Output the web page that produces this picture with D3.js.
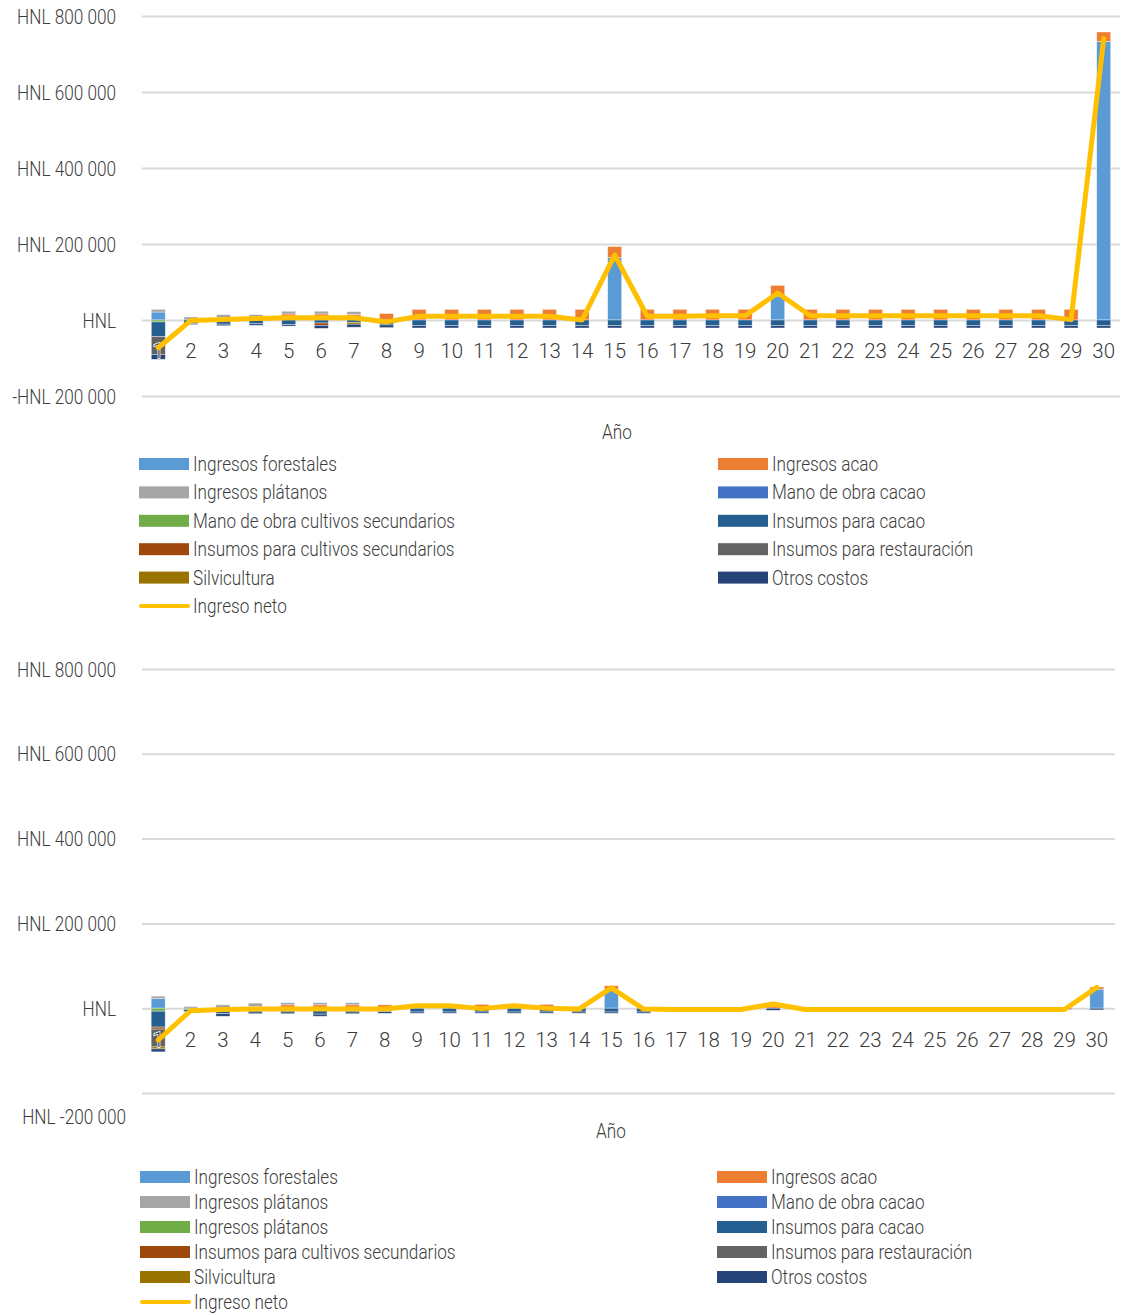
<!DOCTYPE html>
<html lang="es">
<head>
<meta charset="utf-8">
<title>Flujo de caja por año</title>
<script src="https://cdn.jsdelivr.net/npm/d3@7/dist/d3.min.js"></script>
<style>
  html, body { margin: 0; padding: 0; background: #fff; }
  svg { display: block; }
  text { font-family: Roboto, "Liberation Sans", sans-serif; font-weight: 300; fill: #3c3c3c; }
</style>
</head>
<body>
<svg id="chart" width="1121" height="1315"></svg>
<script>
// ---- Categories (years) ----
const years = ["1","2","3","4","5","6","7","8","9","10","11","12","13","14","15",
               "16","17","18","19","20","21","22","23","24","25","26","27","28","29","30"];

// ---- Series, first scenario (HNL; costs negative) ----
const forestalesA = [21000,0,0,0,0,0,0,0,0,0,0,0,0,0,165000,0,0,0,0,63000,0,0,0,0,0,0,0,0,0,733000];
const acaoA = [0,0,6000,5000,16000,16000,15000,17000,28000,28000,28000,28000,28000,28000,28000,
               28000,28000,28000,28000,28000,28000,28000,28000,28000,28000,28000,28000,28000,28000,25000];
const platanosA = [7000,8000,8000,9000,7000,7000,7000,0,0,0,0,0,0,0,0,0,0,0,0,0,0,0,0,0,0,0,0,0,0,0];
const manoCacaoA = [0,0,0,0,0,0,0,0,0,0,0,0,0,0,0,0,0,0,0,0,0,0,0,0,0,0,0,0,0,0];
const manoCultivosA = [-5000,0,0,0,0,0,0,0,0,0,0,0,0,0,0,0,0,0,0,0,0,0,0,0,0,0,0,0,0,0];
const insumosCacaoA = [-39000,-9000,-11000,-10000,-12000,-8000,-6000,-13000,-15000,-15000,-15000,-15000,-15000,-15000,-15000,
                       -15000,-15000,-15000,-15000,-15000,-15000,-15000,-15000,-15000,-15000,-15000,-15000,-15000,-15000,-15000];
const insumosCultivosA = [0,0,0,0,0,-6000,0,0,0,0,0,0,0,0,0,0,0,0,0,0,0,0,0,0,0,0,0,0,0,0];
const insumosRestauracionA = [-46500,0,0,0,0,0,0,0,0,0,0,0,0,0,0,0,0,0,0,0,0,0,0,0,0,0,0,0,0,0];
const silviculturaA = [0,0,0,0,0,0,-5000,0,0,0,0,0,0,0,0,0,0,0,0,0,0,0,0,0,0,0,0,0,0,0];
const otrosCostosA = [-13000,-3000,-4000,-4000,-4000,-8000,-8000,-7000,-6000,-6000,-6000,-6000,-6000,-6000,-6000,
                      -6000,-6000,-6000,-6000,-6000,-6000,-6000,-6000,-6000,-6000,-6000,-6000,-6000,-6000,-6000];
const netoA = [-73000,-1000,1000,4000,6000,6000,6000,-5000,10000,10000,10000,10000,10000,0,171000,
               10000,10000,11000,11000,71000,11000,11000,11000,11000,11000,11000,11000,11000,1000,740000];

// ---- Series, second scenario ----
const forestalesB = [23000,0,0,0,0,0,0,0,0,0,0,0,0,0,45000,0,0,0,0,0,0,0,0,0,0,0,0,0,0,45000];
const acaoB = [0,0,0,4000,8000,8000,8000,8000,8000,8000,9000,8000,9000,0,8000,0,0,0,0,5000,0,0,0,0,0,0,0,0,0,5000];
const platanosB = [5400,4000,8000,8000,5000,5000,5000,0,0,0,0,0,0,0,0,0,0,0,0,0,0,0,0,0,0,0,0,0,0,0];
const manoCacaoB = [0,0,0,0,0,0,0,0,0,0,0,0,0,0,0,0,0,0,0,0,0,0,0,0,0,0,0,0,0,0];
const manoCultivosB = [-7000,-3000,0,0,0,0,0,0,0,0,0,0,0,0,0,0,0,0,0,0,0,0,0,0,0,0,0,0,0,0];
const insumosCacaoB = [-37600,-5000,-13000,-9000,-9000,-14000,-9000,-8000,-9000,-9000,-9000,-9000,-9000,-9000,-9000,
                       -9000,0,0,0,0,0,0,0,0,0,0,0,0,0,0];
const insumosCultivosB = [-4700,0,0,0,0,0,0,0,0,0,0,0,0,0,0,0,0,0,0,0,0,0,0,0,0,0,0,0,0,0];
const insumosRestauracionB = [-42000,0,0,0,0,0,0,0,0,0,0,0,0,0,0,0,0,0,0,0,0,0,0,0,0,0,0,0,0,0];
const silviculturaB = [-4700,0,0,0,0,0,0,0,0,0,0,0,0,0,0,0,0,0,0,0,0,0,0,0,0,0,0,0,0,0];
const otrosCostosB = [-7000,0,-6000,-4000,-4000,-5000,-4000,-4000,-3000,-3000,-3000,-3000,-3000,-3000,-3000,
                      -3000,-2000,-2000,-3000,-5000,-3000,-2000,-2000,-2000,-2000,-2000,-2000,-2000,-3000,-4000];
const netoB = [-75000,-6000,-3000,-2000,-2000,-2000,-2000,-2000,6000,6000,-1000,6000,0,-2000,48000,
               -2000,-3000,-3000,-3000,10000,-3000,-3000,-3000,-3000,-3000,-3000,-3000,-3000,-3000,49000];

// ---- Axis ticks ----
const tickValues = [-200000, 0, 200000, 400000, 600000, 800000];
const tickLabelsA = ["-HNL 200 000", "HNL", "HNL 200 000", "HNL 400 000", "HNL 600 000", "HNL 800 000"];
const tickLabelsB = ["HNL -200 000", "HNL", "HNL 200 000", "HNL 400 000", "HNL 600 000", "HNL 800 000"];

// ---- Legend names ----
const seriesNamesA = ["Ingresos forestales", "Ingresos acao", "Ingresos plátanos", "Mano de obra cacao",
  "Mano de obra cultivos secundarios", "Insumos para cacao", "Insumos para cultivos secundarios",
  "Insumos para restauración", "Silvicultura", "Otros costos"];
const seriesNamesB = ["Ingresos forestales", "Ingresos acao", "Ingresos plátanos", "Mano de obra cacao",
  "Ingresos plátanos", "Insumos para cacao", "Insumos para cultivos secundarios",
  "Insumos para restauración", "Silvicultura", "Otros costos"];
const netName = "Ingreso neto";
const axisTitle = "Año";

const seriesColors = ["#5B9BD5", "#ED7D31", "#A5A5A5", "#4472C4", "#70AD47",
                      "#255E91", "#9E480E", "#636363", "#997300", "#264478"];
const netColor = "#FFC000";

const FONT_SIZE = 19.5;
const svg = d3.select("#chart");

function drawChart(cfg) {
  const keys = d3.range(cfg.series.length).map(String);
  const rows = years.map((yr, i) => {
    const r = { year: yr };
    cfg.series.forEach((s, k) => { r[k] = s[i]; });
    return r;
  });

  const x = d3.scaleBand().domain(years).range([cfg.x0, cfg.x1])
    .paddingInner(0.57).paddingOuter(0.285);
  const y = d3.scaleLinear().domain([-200000, 800000]).range([cfg.yBottom, cfg.yTop]);

  const g = svg.append("g");

  // gridlines + value labels
  const yAxis = d3.axisLeft(y)
    .tickValues(tickValues)
    .tickFormat((d, i) => cfg.tickLabels[i])
    .tickSizeInner(-(cfg.gridEnd - cfg.x0))
    .tickSizeOuter(0)
    .tickPadding(26);
  const ya = g.append("g").attr("transform", `translate(${cfg.x0},0)`).call(yAxis);
  ya.attr("font-family", null).attr("font-size", null);
  ya.select(".domain").remove();
  ya.selectAll(".tick line").attr("stroke", "#d9d9d9").attr("stroke-width", 2);
  ya.selectAll(".tick text")
    .attr("font-size", FONT_SIZE)
    .attr("fill", null)
    .attr("dy", "0.36em")
    .each(function (d) {
      if (cfg.lastShift && d === -200000) {
        d3.select(this).attr("x", -26 + cfg.lastShift[0]).attr("y", cfg.lastShift[1]);
      }
    });

  // stacked bars (diverging: incomes up, costs down)
  const stacked = d3.stack().keys(keys).offset(d3.stackOffsetDiverging)(rows);
  const bw = 14;
  g.append("g").selectAll("g")
    .data(stacked)
    .join("g")
    .attr("fill", (d, i) => seriesColors[i])
    .selectAll("rect")
    .data(d => d.filter(p => p[1] - p[0] !== 0))
    .join("rect")
    .attr("x", p => x(p.data.year) + x.bandwidth() / 2 - bw / 2)
    .attr("width", bw)
    .attr("y", p => y(Math.max(p[0], p[1])))
    .attr("height", p => Math.abs(y(p[0]) - y(p[1])))
    .attr("stroke", "#ffffff")
    .attr("stroke-opacity", 0.55)
    .attr("stroke-width", 0.7);

  // year labels
  const xAxis = d3.axisBottom(x).tickSize(0).tickPadding(0);
  const xa = g.append("g").attr("transform", `translate(0,${cfg.yearLabelY})`).call(xAxis);
  xa.attr("font-family", null).attr("font-size", null);
  xa.select(".domain").remove();
  xa.selectAll(".tick text")
    .attr("class", "year-label")
    .attr("font-size", 20.5)
    .attr("dy", "0.36em")
    .attr("y", 0)
    .attr("fill", null)
    .attr("stroke", "#ffffff")
    .attr("stroke-width", 1.5)
    .attr("paint-order", "stroke");

  // net income line
  const line = d3.line()
    .x((d, i) => x(years[i]) + x.bandwidth() / 2)
    .y(d => y(d));
  g.append("path")
    .datum(cfg.net)
    .attr("d", line)
    .attr("fill", "none")
    .attr("stroke", netColor)
    .attr("stroke-width", 5)
    .attr("stroke-linejoin", "round")
    .attr("stroke-linecap", "round");

  // axis title
  g.append("text")
    .attr("x", cfg.titleX).attr("y", cfg.titleY)
    .attr("text-anchor", "middle").attr("dy", "0.36em")
    .attr("font-size", FONT_SIZE)
    .text(axisTitle);

  // legend: two columns, row-wise
  const lg = g.append("g");
  cfg.names.forEach((name, i) => {
    const col = i % 2, row = Math.floor(i / 2);
    const lx = col === 0 ? cfg.legendX0 : cfg.legendX1;
    const ly = cfg.legendY + row * cfg.legendStep;
    lg.append("rect")
      .attr("x", lx).attr("y", ly - 6).attr("width", 50).attr("height", 12)
      .attr("fill", seriesColors[i]);
    lg.append("text")
      .attr("class", "legend-label")
      .attr("x", lx + 54).attr("y", ly).attr("dy", "0.36em")
      .attr("font-size", FONT_SIZE)
      .text(name);
  });
  const nly = cfg.legendY + 5 * cfg.legendStep;
  lg.append("line")
    .attr("x1", cfg.legendX0 + 2).attr("x2", cfg.legendX0 + 49)
    .attr("y1", nly).attr("y2", nly)
    .attr("stroke", netColor).attr("stroke-width", 4).attr("stroke-linecap", "round");
  lg.append("text")
    .attr("x", cfg.legendX0 + 54).attr("y", nly).attr("dy", "0.36em")
    .attr("font-size", FONT_SIZE)
    .text(netName);
}

drawChart({
  series: [forestalesA, acaoA, platanosA, manoCacaoA, manoCultivosA, insumosCacaoA,
           insumosCultivosA, insumosRestauracionA, silviculturaA, otrosCostosA],
  net: netoA,
  names: seriesNamesA,
  tickLabels: tickLabelsA,
  x0: 142, x1: 1120, gridEnd: 1120,
  yTop: 16, yBottom: 396,
  yearLabelY: 351,
  titleX: 617, titleY: 432,
  legendX0: 139, legendX1: 718, legendY: 464, legendStep: 28.4
});

drawChart({
  series: [forestalesB, acaoB, platanosB, manoCacaoB, manoCultivosB, insumosCacaoB,
           insumosCultivosB, insumosRestauracionB, silviculturaB, otrosCostosB],
  net: netoB,
  names: seriesNamesB,
  tickLabels: tickLabelsB,
  lastShift: [10, 23],
  x0: 142, x1: 1113, gridEnd: 1115,
  yTop: 669, yBottom: 1093,
  yearLabelY: 1040,
  titleX: 611, titleY: 1131,
  legendX0: 140, legendX1: 717, legendY: 1177, legendStep: 25
});

// The typeface is set narrow: compress the word labels horizontally by one
// common factor so the longest legend entry spans 262px (year digits stay as is).
(function condenseText() {
  const ref = svg.selectAll("text.legend-label")
    .filter(function () { return this.textContent === "Mano de obra cultivos secundarios"; })
    .node();
  const k = Math.min(1, 262 / ref.getComputedTextLength());
  svg.selectAll("text").filter(function () { return !this.classList.contains("year-label"); })
    .each(function () {
      const w = this.getComputedTextLength();
      d3.select(this).attr("textLength", w * k).attr("lengthAdjust", "spacingAndGlyphs");
    });
})();
</script>
</body>
</html>
